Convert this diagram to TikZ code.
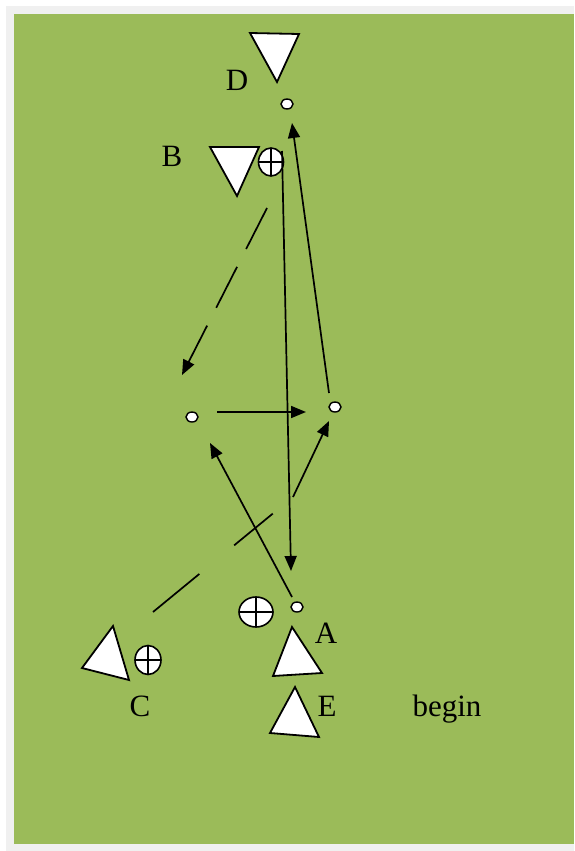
\documentclass[tikz,border=0pt]{standalone}
\usepackage{fontspec}
\setmainfont{Liberation Serif}
\usetikzlibrary{arrows.meta,shapes.geometric}
\definecolor{fieldgreen}{HTML}{9BBB59}
\definecolor{framegray}{HTML}{F0F0F0}
\begin{document}
\begin{tikzpicture}[x=1pt,y=-1pt,
  line width=1.7pt,
  lbl/.style={anchor=base,inner sep=0pt,font=\fontsize{31}{31}\selectfont},
  spot/.style={ellipse,draw,fill=white,minimum width=12pt,minimum height=10pt,inner sep=0pt,line width=1.4pt},
  plus/.style={ellipse,draw,fill=white,inner sep=0pt,line width=1.6pt,
    path picture={\draw[line width=1.4pt] (path picture bounding box.north) -- (path picture bounding box.south)
      (path picture bounding box.west) -- (path picture bounding box.east);}},
  cone/.style={draw,fill=white,line width=1.8pt,line join=miter},
  arr/.style={-{Triangle[length=15pt,width=12pt]}},
]
\useasboundingbox (0,0) rectangle (574,851);
\fill[white] (0,0) rectangle (574,851);
\fill[framegray] (6,6) rectangle (574,851);
\fill[fieldgreen] (14,14) rectangle (574,844);

% labels
\node[lbl] (lD) at (237,90) {D};
\node[lbl] (lB) at (172,166) {B};
\node[lbl] (lA) at (326,643) {A};
\node[lbl] (lC) at (140,716) {C};
\node[lbl] (lE) at (327,716) {E};
\node[lbl] (lbegin) at (447,716) {begin};

% cones
\draw[cone] (250,33) -- (299,34) -- (277,82) -- cycle;
\draw[cone] (210,147) -- (259,147) -- (237,196) -- cycle;
\draw[cone] (292,627) -- (273,676) -- (322,673) -- cycle;
\draw[cone] (295,687) -- (270,733) -- (319,737) -- cycle;
\draw[cone] (113,626) -- (82,668) -- (129,680) -- cycle;

% spots
\node[spot] (dD) at (287,104) {};
\node[spot] (d1) at (192,417) {};
\node[spot] (d2) at (335,407) {};
\node[spot] (dA) at (297,607) {};

% players with ball
\node[plus,minimum width=25pt,minimum height=28pt] (pB) at (271,162) {};
\node[plus,minimum width=34pt,minimum height=30pt] (pA) at (256,612) {};
\node[plus,minimum width=26pt,minimum height=29pt] (pC) at (148,660) {};

% connector ends
\coordinate (bs) at (267,208);
\coordinate (be) at (182,375);
\coordinate (h1) at (217,412);
\coordinate (h2) at (306,412);
\coordinate (u1) at (329,393);
\coordinate (u2) at (292,123);
\coordinate (v1) at (282,151);
\coordinate (v2) at (291,571);
\coordinate (a1) at (292,597);
\coordinate (a2) at (210,443);
\coordinate (c1) at (153,612);
\coordinate (c2) at (293,497);
\coordinate (c3) at (329,421);

% connectors
\draw[arr,dash pattern=on 46pt off 20pt] (bs) -- (be);
\draw[arr] (h1) -- (h2);
\draw[arr] (u1) -- (u2);
\draw[arr] (v1) -- (v2);
\draw[arr] (a1) -- (a2);
\draw[dash pattern=on 60pt off 45pt on 50pt off 30pt] (c1) -- (c2);
\draw[arr] (c2) -- (c3);
\end{tikzpicture}
\end{document}
